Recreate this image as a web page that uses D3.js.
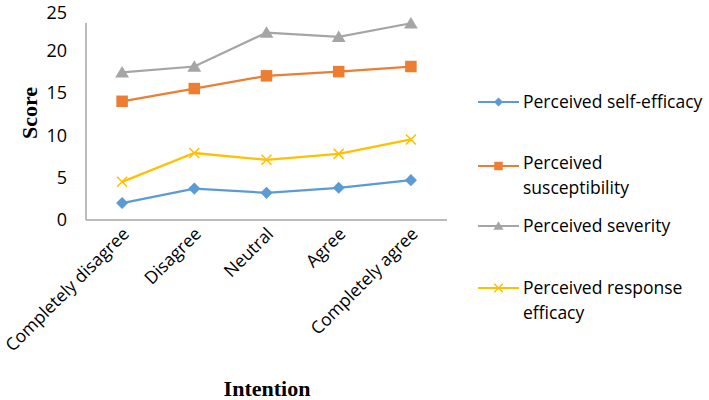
<!DOCTYPE html>
<html><head><meta charset="utf-8">
<script src="https://cdn.jsdelivr.net/npm/d3@7"></script>
<style>body{margin:0;background:#fff}svg{display:block}</style>
</head><body>
<svg id="c" width="709" height="400"></svg>
<script>
const categories = ["Completely disagree","Disagree","Neutral","Agree","Completely agree"];
const selfEfficacy = [2.0, 3.7, 3.2, 3.8, 4.7];
const susceptibility = [14.0, 15.5, 17.0, 17.5, 18.1];
const severity = [17.4, 18.1, 22.1, 21.6, 23.2];
const responseEfficacy = [4.5, 7.9, 7.1, 7.8, 9.5];
const yTicks = [0,5,10,15,20,25];
const seriesNames = ["Perceived self-efficacy","Perceived susceptibility","Perceived severity","Perceived response efficacy"];

(function(){
const series = [
  {name:seriesNames[0], values:selfEfficacy, color:"#5B9BD5", marker:"diamond", legend:["Perceived self-efficacy"]},
  {name:seriesNames[1], values:susceptibility, color:"#ED7D31", marker:"square", legend:["Perceived","susceptibility"]},
  {name:seriesNames[2], values:severity, color:"#A5A5A5", marker:"triangle", legend:["Perceived severity"]},
  {name:seriesNames[3], values:responseEfficacy, color:"#FFC000", marker:"x", legend:["Perceived response","efficacy"]}
];

const svg = d3.select("#c");
const mLeft = 86, mRight = 447, mTop = 8, mBottom = 220;
const x = d3.scalePoint().domain(categories).range([mLeft, mRight]).padding(0.5);
const y = d3.scaleLinear().domain([0,25]).range([mBottom, mTop]);
const font = "'Open Sans', sans-serif";

svg.append("line").attr("x1",mLeft).attr("x2",mLeft).attr("y1",mTop+15).attr("y2",mBottom).attr("stroke","#A6A6A6").attr("stroke-width",1.5);
svg.append("line").attr("x1",mLeft).attr("x2",mRight).attr("y1",mBottom).attr("y2",mBottom).attr("stroke","#A6A6A6").attr("stroke-width",1.5);

svg.selectAll("text.yt").data(yTicks).enter().append("text")
  .attr("x",67).attr("y",d=>Math.max(y(d),12.5)).attr("dy","0.36em").attr("text-anchor","end")
  .attr("font-family",font).attr("font-size",18).attr("fill","#000").text(d=>d);

svg.selectAll("text.xt").data(categories).enter().append("text")
  .attr("text-anchor","end")
  .attr("transform",d=>`translate(${x(d)+8},${mBottom+15}) rotate(-45)`)
  .attr("font-family",font).attr("font-size",17.5).attr("fill","#000").text(d=>d);

svg.append("text").attr("transform","translate(37,113) rotate(-90)").attr("text-anchor","middle")
  .attr("font-family","'Liberation Serif', serif").attr("font-weight","bold").attr("font-size",22).text("Score");
svg.append("text").attr("x",267).attr("y",396).attr("text-anchor","middle")
  .attr("font-family","'Liberation Serif', serif").attr("font-weight","bold").attr("font-size",22).text("Intention");

function drawMarker(g, type, cx, cy, color, s){
  if(type==="diamond"){
    g.append("path").attr("d",d3.symbol().type(d3.symbolSquare).size(s*s*0.55)()).attr("transform",`translate(${cx},${cy}) rotate(45)`).attr("fill",color);
  } else if(type==="square"){
    g.append("rect").attr("x",cx-s/2).attr("y",cy-s/2).attr("width",s).attr("height",s).attr("fill",color);
  } else if(type==="triangle"){
    g.append("path").attr("d",`M${cx},${cy-s*0.55}L${cx+s*0.6},${cy+s*0.45}L${cx-s*0.6},${cy+s*0.45}Z`).attr("fill",color);
  } else {
    const h=s/2;
    g.append("path").attr("d",`M${cx-h},${cy-h}L${cx+h},${cy+h}M${cx-h},${cy+h}L${cx+h},${cy-h}`).attr("stroke",color).attr("stroke-width",1.5);
  }
}

const line = d3.line().x((d,i)=>x(categories[i])).y(d=>y(d));
series.forEach(s=>{
  const g = svg.append("g");
  g.append("path").attr("d",line(s.values)).attr("fill","none").attr("stroke",s.color).attr("stroke-width",2.25);
  s.values.forEach((v,i)=>drawMarker(g,s.marker,x(categories[i]),y(v),s.color,s.marker==="x"?10:11.5));
});

const legY = [102,166,226,288];
series.forEach((s,i)=>{
  const g = svg.append("g");
  const ly = legY[i];
  g.append("line").attr("x1",478).attr("x2",519).attr("y1",ly).attr("y2",ly).attr("stroke",s.color).attr("stroke-width",2);
  drawMarker(g,s.marker,498.5,ly,s.color,8.5);
  s.legend.forEach((t,j)=>{
    g.append("text").attr("x",523).attr("y",(i===1?ly-3:ly)+j*24.5).attr("dy","0.36em")
      .attr("font-family",font).attr("font-size",17.5).attr("fill","#000").text(t);
  });
});
})();
</script>
</body></html>
